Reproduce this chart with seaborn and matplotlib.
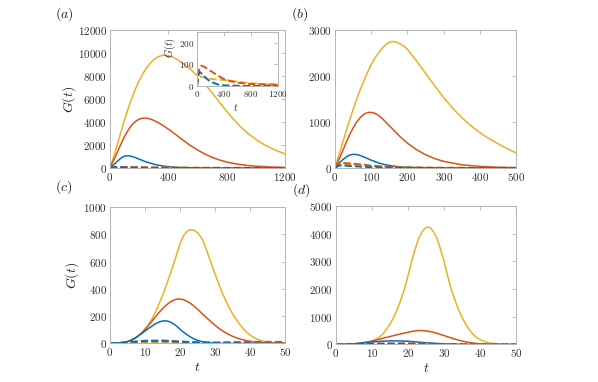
import numpy as np
import pandas as pd
import matplotlib
matplotlib.use('Agg')
import matplotlib.pyplot as plt
import matplotlib.ticker as mticker
import seaborn as sns

# colours (matlab defaults)
c_blue = '#0072BD'
c_orange = '#D95319'
c_yellow = '#EDB120'

# ---- panel (a)
ta_yellow = [0, 25, 50, 75, 100, 125, 150, 175, 200, 225, 250, 275, 300, 325, 350, 375, 400, 425, 450, 475, 500,
             550, 600, 650, 700, 750, 800, 850, 900, 950, 1000, 1050, 1100, 1150, 1200]
ga_yellow = [0, 950, 2050, 3150, 4200, 5200, 6100, 6900, 7600, 8200, 8700, 9100, 9420, 9640, 9770, 9810, 9770, 9670,
             9520, 9330, 9100, 8600, 8000, 7300, 6550, 5730, 4930, 4190, 3530, 2960, 2480, 2080, 1750, 1470, 1230]
ta_orange = [0, 25, 50, 75, 100, 125, 150, 175, 200, 225, 250, 275, 300, 325, 350, 375, 400, 425, 450, 475, 500,
             550, 600, 650, 700, 750, 800, 850, 900, 950, 1000, 1100, 1200]
ga_orange = [0, 680, 1380, 2080, 2750, 3300, 3750, 4060, 4250, 4330, 4330, 4260, 4140, 3980, 3800, 3600, 3380, 3150,
             2910, 2670, 2430, 1970, 1570, 1220, 930, 700, 520, 390, 290, 210, 160, 90, 50]
ta_blue = [0, 25, 50, 75, 100, 125, 150, 175, 200, 250, 300, 350, 400, 450, 500, 600, 700, 800, 1200]
ga_blue = [0, 280, 580, 860, 1040, 1070, 1010, 900, 770, 520, 330, 200, 115, 65, 35, 10, 3, 0, 0]
ta_dash = [0, 20, 40, 60, 100, 150, 200, 300, 400, 500, 600, 700, 800, 1000, 1200]
ga_blue_d = [0, 50, 65, 60, 48, 32, 20, 8, 3, 2, 1, 0, 0, 0, 0]
ga_orange_d = [0, 60, 85, 94, 90, 80, 70, 50, 32, 22, 16, 12, 9, 7, 6]
ga_yellow_d = [0, 40, 45, 44, 40, 35, 33, 30, 28, 24, 20, 16, 13, 9, 7]

# ---- panel (b)
tb_yellow = [0, 10, 20, 30, 40, 50, 60, 70, 80, 90, 100, 110, 120, 130, 140, 150, 160, 170, 180, 190, 200,
             225, 250, 275, 300, 325, 350, 375, 400, 425, 450, 475, 500]
gb_yellow = [0, 260, 520, 780, 1030, 1270, 1500, 1710, 1900, 2080, 2250, 2390, 2500, 2600, 2680, 2735, 2750, 2735,
             2700, 2650, 2580, 2330, 2060, 1790, 1530, 1300, 1100, 920, 770, 640, 530, 420, 330]
tb_orange = [0, 10, 20, 30, 40, 50, 60, 70, 80, 90, 100, 110, 120, 130, 140, 150, 160, 180, 200, 225, 250, 275,
             300, 350, 400, 450, 500]
gb_orange = [0, 170, 350, 540, 720, 870, 1000, 1100, 1170, 1205, 1210, 1190, 1145, 1080, 1000, 920, 840, 680, 540,
             400, 290, 205, 145, 70, 35, 17, 8]
tb_blue = [0, 10, 20, 30, 40, 50, 60, 70, 80, 90, 100, 120, 140, 160, 180, 200, 250, 300, 500]
gb_blue = [0, 90, 170, 235, 280, 298, 292, 270, 240, 205, 170, 110, 70, 42, 25, 15, 5, 1, 0]
tb_dash = [0, 10, 20, 40, 60, 80, 100, 150, 200, 300, 500]
gb_blue_d = [0, 50, 55, 45, 35, 25, 15, 5, 2, 0, 0]
gb_orange_d = [0, 90, 110, 100, 85, 70, 50, 25, 10, 3, 0]
gb_yellow_d = [0, 60, 80, 85, 75, 60, 45, 20, 10, 5, 2]

# ---- panel (c)
tc = list(range(0, 51))
gc_yellow = [0, 1, 2, 4, 8, 14, 24, 37, 54, 75, 104, 138, 180, 232, 290, 352, 420, 495, 570, 650, 730, 790, 822,
             834, 830, 812, 780, 725, 655, 580, 510, 440, 375, 318, 265, 218, 178, 142, 110, 83, 62, 45, 32, 22,
             15, 11, 8, 6, 5, 5, 5]
gc_orange = [0, 1, 2, 4, 8, 14, 24, 37, 54, 76, 104, 133, 164, 196, 227, 255, 280, 301, 316, 325, 326, 321, 310,
             294, 274, 251, 227, 203, 179, 156, 134, 113, 95, 79, 65, 53, 43, 34, 27, 21, 16, 12, 9, 7, 5, 4, 3,
             2, 2, 2, 2]
gc_blue = [0, 1, 2, 4, 8, 14, 24, 37, 54, 72, 92, 110, 128, 144, 157, 165, 166, 160, 147, 128, 104, 83, 64, 48,
           34, 23, 15, 9, 6, 4, 2, 1, 0, 0, 0, 0, 0, 0, 0, 0, 0, 0, 0, 0, 0, 0, 0, 0, 0, 0, 0]
tc_dash = [0, 5, 10, 15, 20, 25, 30, 35, 40, 45, 50]
gc_blue_d = [0, 10, 20, 22, 15, 8, 4, 2, 1, 0, 0]
gc_orange_d = [0, 8, 15, 15, 10, 7, 8, 10, 12, 12, 12]
gc_yellow_d = [0, 5, 10, 12, 8, 5, 4, 4, 5, 7, 8]

# ---- panel (d)
td = list(range(0, 51))
gd_yellow = [0, 2, 4, 6, 10, 15, 22, 32, 48, 75, 115, 175, 260, 380, 540, 740, 980, 1270, 1610, 2000, 2480, 3000,
             3450, 3850, 4090, 4230, 4230, 4090, 3850, 3450, 3000, 2480, 2000, 1610, 1270, 980, 740, 540, 380,
             260, 175, 115, 75, 48, 30, 20, 13, 9, 6, 4, 3]
gd_orange = [0, 2, 5, 10, 17, 27, 40, 56, 76, 100, 128, 158, 190, 222, 255, 288, 320, 352, 383, 413, 442, 468,
             490, 503, 503, 492, 470, 440, 405, 365, 322, 278, 235, 195, 158, 125, 96, 72, 53, 38, 27, 19, 13, 9,
             6, 4, 3, 2, 1, 1, 0]
gd_blue = [0, 2, 5, 10, 17, 26, 37, 50, 64, 78, 91, 102, 112, 120, 126, 130, 132, 131, 128, 123, 116, 107, 97,
           86, 75, 64, 54, 45, 37, 30, 24, 19, 15, 12, 9, 7, 5, 4, 3, 2, 1, 0, 0, 0, 0, 0, 0, 0, 0, 0, 0]
td_dash = [0, 5, 10, 15, 20, 25, 30, 35, 40, 45, 50]
gd_blue_d = [0, 15, 30, 28, 20, 12, 6, 3, 1, 0, 0]
gd_orange_d = [0, 10, 25, 35, 40, 30, 18, 8, 3, 1, 0]
gd_yellow_d = [0, 5, 12, 18, 20, 15, 8, 4, 2, 1, 0]

sns.set_style('white')
plt.rcParams['mathtext.fontset'] = 'cm'
plt.rcParams['font.family'] = ['DejaVu Serif']

fig = plt.figure(figsize=(5.98, 3.82), dpi=100)

ax_a = fig.add_axes([0.184, 0.5602, 0.2926, 0.3613])
ax_b = fig.add_axes([0.5602, 0.5602, 0.3027, 0.3613])
ax_c = fig.add_axes([0.184, 0.1008, 0.2926, 0.3573])
ax_d = fig.add_axes([0.5619, 0.0982, 0.3010, 0.3625])
ax_in = fig.add_axes([0.3294, 0.7749, 0.1355, 0.1414])
ax_in.set_zorder(5)

fmt = mticker.FuncFormatter(lambda v, p: f'${v:g}$')


def line(ax, t, g, color, dashed=False):
    sns.lineplot(x=t, y=g, ax=ax, color=color, lw=1.4 if dashed else 1.1,
                 linestyle='--' if dashed else '-', estimator=None, sort=False)


def style(ax, xlim, ylim, xt, yt, size=8):
    ax.set_xlim(xlim)
    ax.set_ylim(ylim)
    ax.set_xticks(xt)
    ax.set_yticks(yt)
    ax.xaxis.set_major_formatter(fmt)
    ax.yaxis.set_major_formatter(fmt)
    for s in ax.spines.values():
        s.set_color('#b3b3b3')
        s.set_linewidth(0.7)
    ax.tick_params(direction='in', top=True, right=True, length=3, width=0.6,
                   color='#b3b3b3', labelsize=size, labelcolor='#303030', pad=2)


# (a)
line(ax_a, ta_yellow, ga_yellow, c_yellow)
line(ax_a, ta_orange, ga_orange, c_orange)
line(ax_a, ta_blue, ga_blue, c_blue)
for g, c in [(ga_yellow_d, c_yellow), (ga_orange_d, c_orange), (ga_blue_d, c_blue)]:
    line(ax_a, ta_dash, g, c, dashed=True)
style(ax_a, (0, 1200), (0, 12000), [0, 400, 800, 1200], range(0, 12001, 2000))
ax_a.set_ylabel('$G(t)$', fontsize=10, labelpad=0)

# inset
for g, c in [(ga_yellow_d, c_yellow), (ga_orange_d, c_orange), (ga_blue_d, c_blue)]:
    line(ax_in, ta_dash, g, c, dashed=True)
style(ax_in, (0, 1200), (0, 250), [0, 400, 800, 1200], [0, 100, 200], size=6.5)
ax_in.set_facecolor('white')
ax_in.set_ylabel('$G(t)$', fontsize=7.5)
ax_in.yaxis.set_label_coords(-0.24, 0.72)
ax_in.set_xlabel('$t$', fontsize=7.5)
ax_in.xaxis.set_label_coords(0.48, -0.3)

# (b)
line(ax_b, tb_yellow, gb_yellow, c_yellow)
line(ax_b, tb_orange, gb_orange, c_orange)
line(ax_b, tb_blue, gb_blue, c_blue)
for g, c in [(gb_yellow_d, c_yellow), (gb_orange_d, c_orange), (gb_blue_d, c_blue)]:
    line(ax_b, tb_dash, g, c, dashed=True)
style(ax_b, (0, 500), (0, 3000), range(0, 501, 100), range(0, 3001, 1000))

# (c)
line(ax_c, tc, gc_yellow, c_yellow)
line(ax_c, tc, gc_orange, c_orange)
line(ax_c, tc, gc_blue, c_blue)
for g, c in [(gc_yellow_d, c_yellow), (gc_orange_d, c_orange), (gc_blue_d, c_blue)]:
    line(ax_c, tc_dash, g, c, dashed=True)
style(ax_c, (0, 50), (0, 1000), range(0, 51, 10), range(0, 1001, 200))
ax_c.set_ylabel('$G(t)$', fontsize=10, labelpad=2)
ax_c.set_xlabel('$t$', fontsize=10, labelpad=1)

# (d)
line(ax_d, td, gd_yellow, c_yellow)
line(ax_d, td, gd_orange, c_orange)
line(ax_d, td, gd_blue, c_blue)
for g, c in [(gd_yellow_d, c_yellow), (gd_orange_d, c_orange), (gd_blue_d, c_blue)]:
    line(ax_d, td_dash, g, c, dashed=True)
style(ax_d, (0, 50), (0, 5000), range(0, 51, 10), range(0, 5001, 1000))
ax_d.set_xlabel('$t$', fontsize=10, labelpad=1)

for lab, x, y in [('(a)', 64, 14), ('(b)', 300, 14), ('(c)', 64, 187), ('(d)', 301, 190)]:
    fig.text(x / 598, 1 - y / 382, f'${lab}$', fontsize=10, ha='center', va='center', color='#202020')

fig.savefig('out.png', dpi=100)
